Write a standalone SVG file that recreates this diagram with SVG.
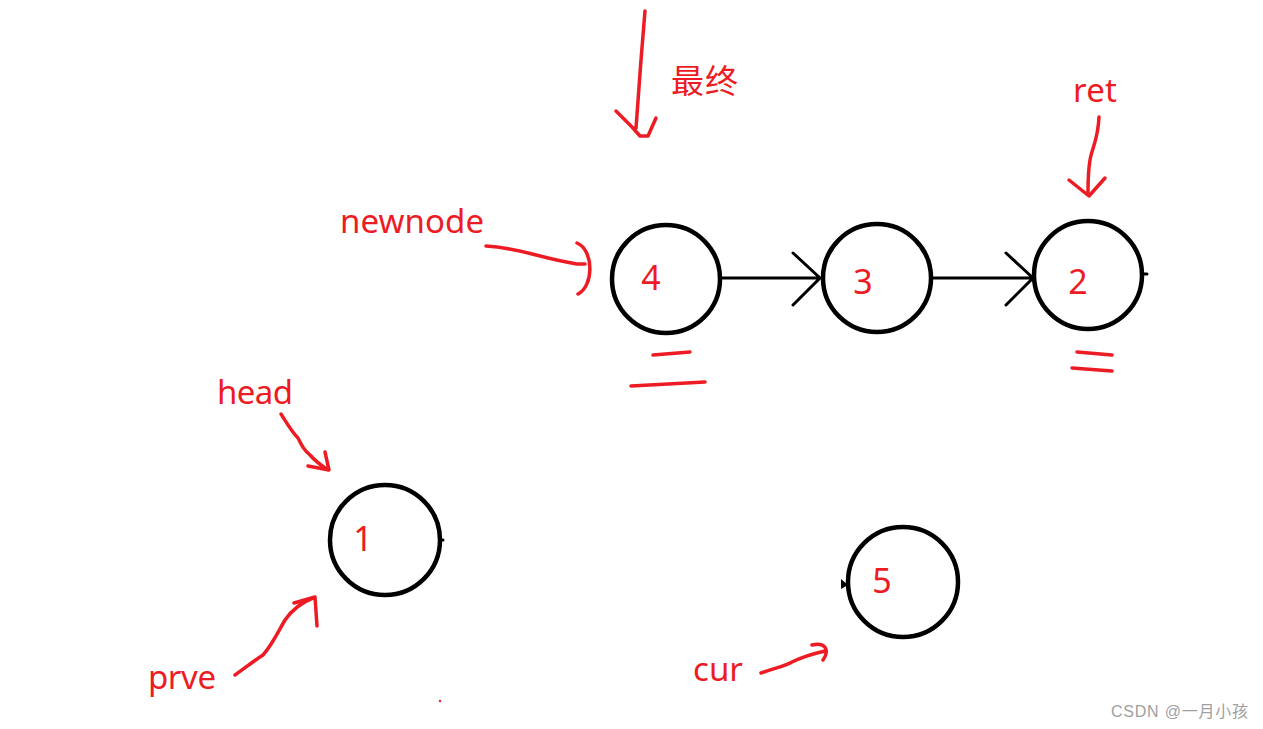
<svg xmlns="http://www.w3.org/2000/svg" width="1263" height="729" viewBox="0 0 1263 729">
<style>
.node{fill:none;stroke:#000;stroke-width:4.5}
.lbl{font-family:"Noto Sans","Noto Sans CJK SC",sans-serif;font-size:33px;fill:#ed1c24}
.num{font-family:"Noto Sans",sans-serif;font-size:34px;fill:#ed1c24;text-anchor:middle}
.red{fill:none;stroke:#ed1c24;stroke-width:3.5;stroke-linecap:round;stroke-linejoin:round}
.blk{fill:none;stroke:#000;stroke-width:3;stroke-linecap:round}
.wm{font-family:"Liberation Sans","Noto Sans CJK SC",sans-serif;font-size:16px;fill:#a0a0a0}
</style>
<rect width="1263" height="729" fill="#fff"/>
<g id="connectors">
<path class="blk" d="M721,278 L820,278 M793,253 L820,278 L793,305"/>
<path class="blk" d="M933,278 L1033,278 M1006,253 L1033,278 L1006,305"/>
</g>
<g id="node4"><circle class="node" cx="666" cy="279" r="54"/><text class="num" x="651" y="290">4</text></g>
<g id="node3"><circle class="node" cx="877" cy="278" r="54"/><text class="num" x="863" y="294">3</text></g>
<g id="node2"><circle class="node" cx="1088" cy="275" r="54"/><path class="blk" d="M1143,274 L1147,274"/><text class="num" x="1078" y="294">2</text></g>
<g id="node1"><circle class="node" cx="385" cy="540" r="55"/><path class="blk" d="M440,540 L443,540"/><text class="num" x="363" y="551">1</text></g>
<g id="node5"><circle class="node" cx="903" cy="582" r="55"/><path d="M841,579 L848,585 L841,589 Z" fill="#000"/><text class="num" x="882" y="593">5</text></g>
<g id="final">
<path class="red" d="M645,11 L641,60 L636,128 M616,111 L632,127 L640,136 L648,136 L656,118"/>
<text class="lbl" x="671" y="93" textLength="67">最终</text>
</g>
<g id="ret">
<text class="lbl" x="1073" y="102" textLength="44">ret</text>
<path class="red" d="M1099,117 C1098,140 1092,148 1090,160 C1088,172 1088,182 1088,192 M1069,180 L1089,196 L1105,178"/>
</g>
<g id="newnode">
<text class="lbl" x="340" y="233" textLength="144">newnode</text>
<path class="red" d="M486,246 C520,248 540,258 577,264 L585,264 M577,243 C594,250 594,286 578,294"/>
</g>
<g id="underline4">
<path class="red" d="M653,355 L690,352 M631,386 L705,382"/>
</g>
<g id="underline2">
<path class="red" d="M1077,352 L1112,355 M1072,368 L1112,371"/>
</g>
<g id="head">
<text class="lbl" x="217" y="404" textLength="76">head</text>
<path class="red" d="M281,414 C288,425 292,432 298,438 C302,446 304,450 310,455 C316,462 322,466 328,470 M308,466 L329,470 L325,452"/>
</g>
<g id="prve">
<text class="lbl" x="148" y="689" textLength="68">prve</text>
<path class="red" d="M235,675 C245,668 255,660 263,655 C272,645 278,632 285,620 C292,610 300,603 313,598 M294,603 L315,597 L317,626"/>
</g>
<g id="cur">
<text class="lbl" x="693" y="681" textLength="50">cur</text>
<path class="red" d="M761,673 C775,668 785,666 792,662 C802,657 812,654 825,651 M812,645 C823,642 831,648 823,660"/>
</g>
<circle cx="440" cy="701" r="1.2" fill="#ed1c24"/>
<text class="wm" x="1111" y="717" textLength="137">CSDN @一月小孩</text>
</svg>
